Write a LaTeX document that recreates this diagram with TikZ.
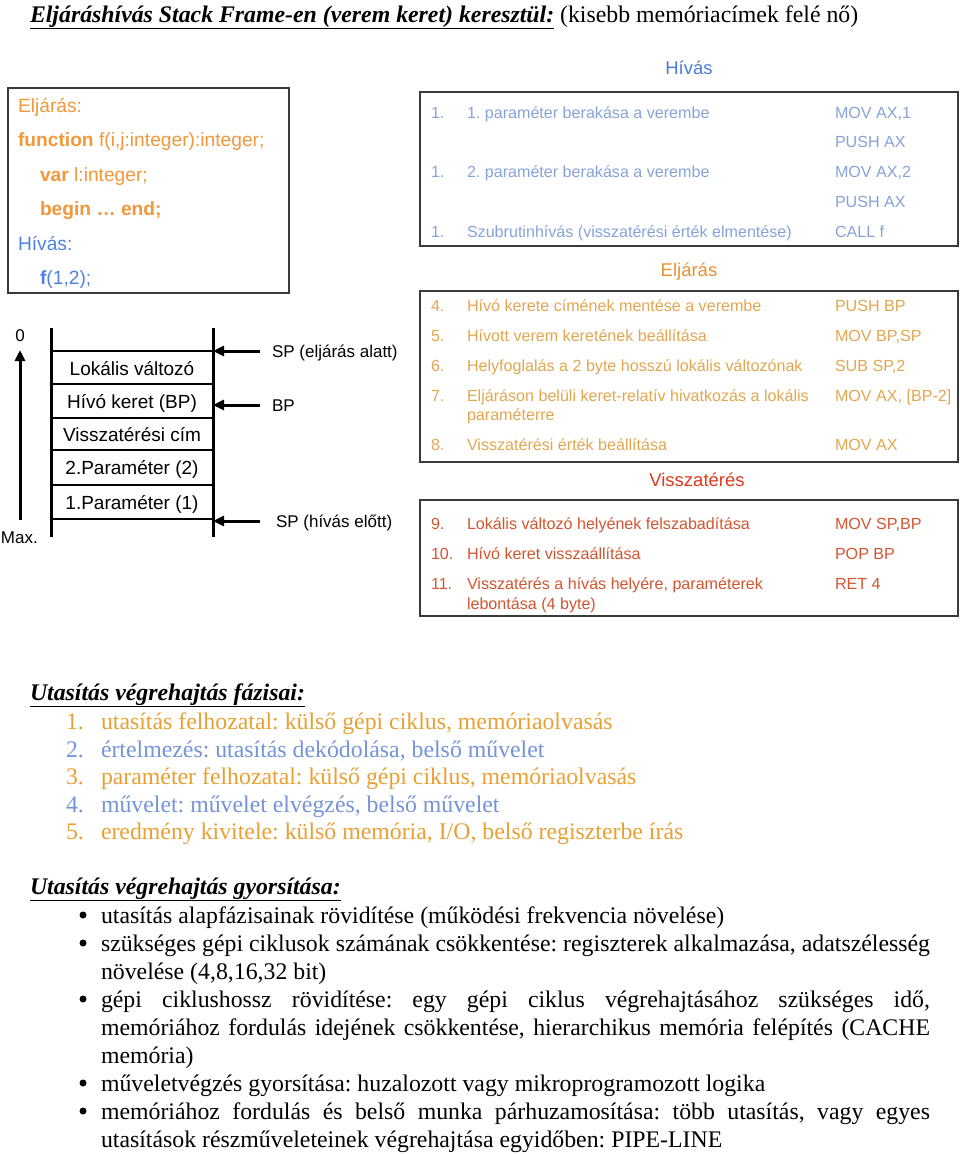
\documentclass[tikz,border=0pt]{standalone}
\usepackage{fontspec}
\setmainfont{Liberation Serif}
\newfontfamily\arial{Liberation Sans}
\usetikzlibrary{arrows.meta}
\definecolor{hivT}{HTML}{4A7BD6}
\definecolor{hivX}{HTML}{86A3D9}
\definecolor{eljT}{HTML}{E8922E}
\definecolor{eljX}{HTML}{E2A650}
\definecolor{retT}{HTML}{E0381C}
\definecolor{retX}{HTML}{D25530}
\definecolor{codeO}{HTML}{F0983A}
\definecolor{codeB}{HTML}{4F82DF}
\definecolor{phO}{HTML}{E8A033}
\definecolor{phB}{HTML}{7494D9}
\definecolor{frameC}{HTML}{3A3A3A}
\newcommand{\ulh}[1]{\underline{\textbf{\textit{#1}}}}
\frenchspacing
\begin{document}
\begin{tikzpicture}[x=1pt,y=-1pt,
  t/.style={inner sep=0pt, outer sep=0pt, anchor=base west},
  tc/.style={inner sep=0pt, outer sep=0pt, anchor=base},
  times/.style={t, font=\fontsize{23.8}{28}\selectfont},
  code/.style={t, font=\arial\fontsize{19.2}{22}\selectfont},
  cell/.style={tc, font=\arial\fontsize{19}{22}\selectfont},
  lab/.style={t, font=\arial\fontsize{17}{20}\selectfont},
  row/.style={t, font=\arial\fontsize{16.1}{19}\selectfont},
  btitle/.style={tc, font=\arial\fontsize{18.5}{21}\selectfont},
  frame/.style={draw=frameC, line width=1.3pt},
  wall/.style={draw=black, line width=3pt},
  sep/.style={draw=black, line width=1.2pt},
  ptr/.style={draw=black, line width=3pt, -{Triangle[length=11pt,width=10pt]}},
  bul/.style={circle, fill=black, inner sep=0pt, minimum size=7pt}
]
\useasboundingbox (0,0) rectangle (960,1154);

% ---------- title ----------
\node[times] (title) at (30,22) {\ulh{Eljáráshívás Stack Frame-en (verem keret) keresztül:} (kisebb memóriacímek felé nő)};

% ---------- code box ----------
\draw[frame] (8,88) rectangle (289,293);
\node[code, text=codeO] (c1) at (18,112) {Eljárás:};
\node[code, text=codeO] (c2) at (18,146) {\textbf{function} f(i,j:integer):integer;};
\node[code, text=codeO] (c3) at (40,181) {\textbf{var} l:integer;};
\node[code, text=codeO] (c4) at (40,215) {\textbf{begin … end;}};
\node[code, text=codeB] (c5) at (18,250) {Hívás:};
\node[code, text=codeB] (c6) at (40,284) {\textbf{f}(1,2);};

% ---------- stack ----------
\coordinate (wlt) at (51,328); \coordinate (wlb) at (51,537);
\coordinate (wrt) at (213,328); \coordinate (wrb) at (213,537);
\draw[wall] (wlt) -- (wlb);
\draw[wall] (wrt) -- (wrb);
\foreach \yy/\nm in {351/h0,384/h1,418/h2,450/h3,485/h4,519/h5}{
  \coordinate (\nm l) at (51,\yy); \coordinate (\nm r) at (213,\yy);
  \draw[sep] (\nm l) -- (\nm r);
}
\node[cell] (s1) at (132,375) {Lokális változó};
\node[cell] (s2) at (132,408) {Hívó keret (BP)};
\node[cell] (s3) at (132,441) {Visszatérési cím};
\node[cell] (s4) at (132,474) {2.Paraméter (2)};
\node[cell] (s5) at (132,509) {1.Paraméter (1)};

\node[lab] (lsp1) at (272,357) {SP (eljárás alatt)};
\node[lab] (lbp)  at (272,411) {BP};
\node[lab] (lsp2) at (276,527) {SP (hívás előtt)};
\coordinate (a1s) at (260,351); \coordinate (a1e) at (213,351);
\coordinate (a2s) at (260,405); \coordinate (a2e) at (213,405);
\coordinate (a3s) at (260,521); \coordinate (a3e) at (213,521);
\draw[ptr] (a1s) -- (a1e);
\draw[ptr] (a2s) -- (a2e);
\draw[ptr] (a3s) -- (a3e);

\node[tc, font=\arial\fontsize{17}{20}\selectfont] (zero) at (20,341) {0};
\node[lab] (max) at (1,543) {Max.};
\coordinate (axb) at (20,520); \coordinate (axt) at (20,350);
\draw[ptr] (axb) -- (axt);

% ---------- Hívás box ----------
\node[btitle, text=hivT] (th) at (689,74) {Hívás};
\draw[frame] (420,92) rectangle (958,246);
\begin{scope}[every node/.append style={text=hivX}]
\node[row] (h1n) at (431,118) {1.};
\node[row] (h1t) at (467,118) {1. paraméter berakása a verembe};
\node[row] (h1i) at (835,118) {MOV AX,1};
\node[row] (h2i) at (835,147) {PUSH AX};
\node[row] (h3n) at (431,177) {1.};
\node[row] (h3t) at (467,177) {2. paraméter berakása a verembe};
\node[row] (h3i) at (835,177) {MOV AX,2};
\node[row] (h4i) at (835,207) {PUSH AX};
\node[row] (h5n) at (431,237) {1.};
\node[row] (h5t) at (467,237) {Szubrutinhívás (visszatérési érték elmentése)};
\node[row] (h5i) at (835,237) {CALL f};
\end{scope}

% ---------- Eljárás box ----------
\node[btitle, text=eljT] (te) at (689,276) {Eljárás};
\draw[frame] (420,291) rectangle (958,462);
\begin{scope}[every node/.append style={text=eljX}]
\node[row] (e4n) at (431,311) {4.};
\node[row] (e4t) at (467,311) {Hívó kerete címének mentése a verembe};
\node[row] (e4i) at (835,311) {PUSH BP};
\node[row] (e5n) at (431,341) {5.};
\node[row] (e5t) at (467,341) {Hívott verem keretének beállítása};
\node[row] (e5i) at (835,341) {MOV BP,SP};
\node[row] (e6n) at (431,371) {6.};
\node[row] (e6t) at (467,371) {Helyfoglalás a 2 byte hosszú lokális változónak};
\node[row] (e6i) at (835,371) {SUB SP,2};
\node[row] (e7n) at (431,401) {7.};
\node[row] (e7t) at (467,401) {Eljáráson belüli keret-relatív hivatkozás a lokális};
\node[row] (e7u) at (467,420) {paraméterre};
\node[row] (e7i) at (835,401) {MOV AX, [BP-2]};
\node[row] (e8n) at (431,450) {8.};
\node[row] (e8t) at (467,450) {Visszatérési érték beállítása};
\node[row] (e8i) at (835,450) {MOV AX};
\end{scope}

% ---------- Visszatérés box ----------
\node[btitle, text=retT] (tr) at (697,486) {Visszatérés};
\draw[frame] (420,500) rectangle (958,616);
\begin{scope}[every node/.append style={text=retX}]
\node[row] (r9n) at (431,529) {9.};
\node[row] (r9t) at (467,529) {Lokális változó helyének felszabadítása};
\node[row] (r9i) at (835,529) {MOV SP,BP};
\node[row] (r10n) at (431,559) {10.};
\node[row] (r10t) at (467,559) {Hívó keret visszaállítása};
\node[row] (r10i) at (835,559) {POP BP};
\node[row] (r11n) at (431,589) {11.};
\node[row] (r11t) at (467,589) {Visszatérés a hívás helyére, paraméterek};
\node[row] (r11u) at (467,609) {lebontása (4 byte)};
\node[row] (r11i) at (835,589) {RET 4};
\end{scope}

% ---------- phases ----------
\node[times] (ph) at (30,700) {\ulh{Utasítás végrehajtás fázisai:}};
\node[times, text=phO] (p1n) at (66,729) {1.};
\node[times, text=phO] (p1t) at (101,729) {utasítás felhozatal: külső gépi ciklus, memóriaolvasás};
\node[times, text=phB] (p2n) at (66,757) {2.};
\node[times, text=phB] (p2t) at (101,757) {értelmezés: utasítás dekódolása, belső művelet};
\node[times, text=phO] (p3n) at (66,784) {3.};
\node[times, text=phO] (p3t) at (101,784) {paraméter felhozatal: külső gépi ciklus, memóriaolvasás};
\node[times, text=phB] (p4n) at (66,812) {4.};
\node[times, text=phB] (p4t) at (101,812) {művelet: művelet elvégzés, belső művelet};
\node[times, text=phO] (p5n) at (66,839) {5.};
\node[times, text=phO] (p5t) at (101,839) {eredmény kivitele: külső memória, I/O, belső regiszterbe írás};

% ---------- speed-up ----------
\node[times] (gy) at (30,894) {\ulh{Utasítás végrehajtás gyorsítása:}};
\node[bul] (b1) at (83,915) {};
\node[bul] (b2) at (83,943) {};
\node[bul] (b3) at (83,999) {};
\node[bul] (b4) at (83,1083) {};
\node[bul] (b5) at (83,1111) {};
\node[times] (g1) at (101,923) {utasítás alapfázisainak rövidítése (működési frekvencia növelése)};
\node[times] (g2) at (101,951) {\makebox[829pt][s]{szükséges gépi ciklusok számának csökkentése: regiszterek alkalmazása, adatszélesség}};
\node[times] (g2b) at (101,979) {növelése (4,8,16,32 bit)};
\node[times] (g3) at (101,1007) {\makebox[829pt][s]{gépi ciklushossz rövidítése: egy gépi ciklus végrehajtásához szükséges idő,}};
\node[times] (g3b) at (101,1035) {\makebox[829pt][s]{memóriához fordulás idejének csökkentése, hierarchikus memória felépítés (CACHE}};
\node[times] (g3c) at (101,1063) {memória)};
\node[times] (g4) at (101,1091) {műveletvégzés gyorsítása: huzalozott vagy mikroprogramozott logika};
\node[times] (g5) at (101,1119) {\makebox[829pt][s]{memóriához fordulás és belső munka párhuzamosítása: több utasítás, vagy egyes}};
\node[times] (g5b) at (101,1147) {utasítások részműveleteinek végrehajtása egyidőben: PIPE-LINE};
\end{tikzpicture}
\end{document}
